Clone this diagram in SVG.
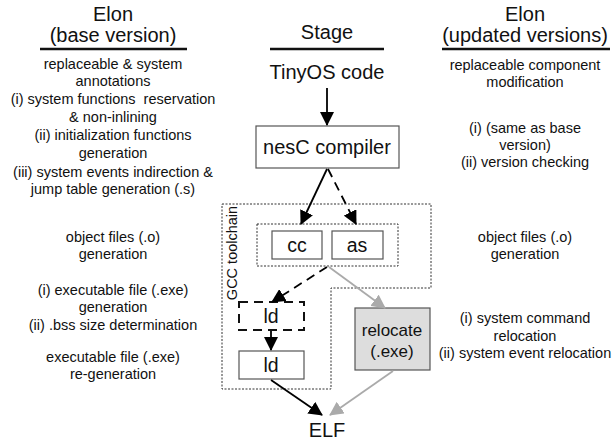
<svg xmlns="http://www.w3.org/2000/svg" width="614" height="441" viewBox="0 0 614 441">
<defs>
<style>
text{font-family:"Liberation Sans",Arial,sans-serif;fill:#111;text-anchor:middle}
.h{font-size:19.5px}
.hh{font-size:20px}
.s{font-size:14.5px}
.r{font-size:17px}
.box{fill:#fff;stroke:#555;stroke-width:1.2}
.ul{stroke:#111;stroke-width:2.5}
.dot{fill:none;stroke:#333;stroke-width:1;stroke-dasharray:2,1.5}
.a{fill:none;stroke:#000;stroke-width:1.8}
.g{fill:none;stroke:#aaa;stroke-width:1.8}
.d{stroke-dasharray:9,6}
</style>
<marker id="ab" markerUnits="userSpaceOnUse" markerWidth="14" markerHeight="14" refX="13" refY="7" orient="auto"><path d="M0,0 L14,7 L0,14 z" fill="#000"/></marker>
<marker id="ag" markerUnits="userSpaceOnUse" markerWidth="14" markerHeight="14" refX="13" refY="7" orient="auto"><path d="M0,0 L14,7 L0,14 z" fill="#aaa"/></marker>
</defs>
<rect width="614" height="441" fill="#fff"/>

<g id="headers">
<text class="hh" x="113" y="21">Elon</text>
<text class="hh" x="113" y="42">(base version)</text>
<line class="ul" x1="40" y1="49" x2="187" y2="49"/>
<text class="hh" x="327" y="39">Stage</text>
<line class="ul" x1="270" y1="49" x2="384" y2="49"/>
<text class="hh" x="525" y="21">Elon</text>
<text class="hh" x="525" y="42">(updated versions)</text>
<line class="ul" x1="442" y1="49" x2="610" y2="49"/>
</g>

<g id="left-notes">
<text class="s" x="113" y="69">replaceable &amp; system</text>
<text class="s" x="113" y="86">annotations</text>
<text class="s" x="113" y="104" xml:space="preserve">(i) system functions  reservation</text>
<text class="s" x="113" y="122">&amp; non-inlining</text>
<text class="s" x="113" y="140">(ii) initialization functions</text>
<text class="s" x="113" y="158">generation</text>
<text class="s" x="113" y="177">(iii) system events indirection &amp;</text>
<text class="s" x="113" y="194">jump table generation (.s)</text>
<text class="s" x="113" y="242">object files (.o)</text>
<text class="s" x="113" y="259">generation</text>
<text class="s" x="113" y="295">(i) executable file (.exe)</text>
<text class="s" x="113" y="312">generation</text>
<text class="s" x="113" y="330">(ii) .bss size determination</text>
<text class="s" x="113" y="362">executable file (.exe)</text>
<text class="s" x="113" y="379">re-generation</text>
</g>

<g id="right-notes">
<text class="s" x="525" y="70">replaceable component</text>
<text class="s" x="525" y="87">modification</text>
<text class="s" x="525" y="133">(i) (same as base</text>
<text class="s" x="525" y="150">version)</text>
<text class="s" x="525" y="167">(ii) version checking</text>
<text class="s" x="525" y="242">object files (.o)</text>
<text class="s" x="525" y="259">generation</text>
<text class="s" x="525" y="323">(i) system command</text>
<text class="s" x="525" y="341">relocation</text>
<text class="s" x="525" y="358">(ii) system event relocation</text>
</g>

<g id="gcc-toolchain">
<path class="dot" d="M222,204 H431 V288 H331 V389 H222 Z"/>
<text class="s" transform="translate(237,253) rotate(-90)">GCC toolchain</text>
</g>
<g id="cc-as-group">
<rect class="dot" x="257" y="224" width="141" height="42"/>
</g>

<g id="tinyos"><text class="hh" x="327" y="79">TinyOS code</text></g>
<g id="nesc"><rect class="box" x="256" y="126" width="143" height="42"/><text class="hh" x="327" y="154">nesC compiler</text></g>
<g id="cc"><rect class="box" x="272" y="231" width="50" height="28"/><text class="h" x="297" y="252">cc</text></g>
<g id="as"><rect class="box" x="332" y="231" width="51" height="28"/><text class="h" x="357" y="252">as</text></g>
<g id="ld1"><rect x="239" y="302" width="65" height="28" fill="#fff" stroke="#111" stroke-width="2" stroke-dasharray="9,6"/><text class="h" x="271" y="323">ld</text></g>
<g id="ld2"><rect class="box" x="239" y="351" width="65" height="28"/><text class="h" x="271" y="372">ld</text></g>
<g id="relocate"><rect x="355" y="308" width="75" height="62" fill="#ddd" stroke="#555" stroke-width="1.2"/><text class="r" x="392" y="336">relocate</text><text class="r" x="392" y="357">(.exe)</text></g>
<g id="elf"><text class="hh" x="327" y="437">ELF</text></g>

<g id="connectors">
<line class="a" x1="327" y1="88" x2="327" y2="125" marker-end="url(#ab)"/>
<line class="a" x1="327" y1="169" x2="301" y2="224" marker-end="url(#ab)"/>
<line class="a d" x1="328" y1="169" x2="356" y2="224" marker-end="url(#ab)"/>
<line class="a d" x1="327" y1="267" x2="272" y2="302" marker-end="url(#ab)"/>
<line class="g" x1="329" y1="267" x2="385" y2="308" marker-end="url(#ag)"/>
<line class="a" x1="271" y1="331" x2="271" y2="350" marker-end="url(#ab)"/>
<line class="a" x1="271" y1="380" x2="322" y2="415" marker-end="url(#ab)"/>
<line class="g" x1="393" y1="371" x2="330" y2="415" marker-end="url(#ag)"/>
</g>
</svg>
